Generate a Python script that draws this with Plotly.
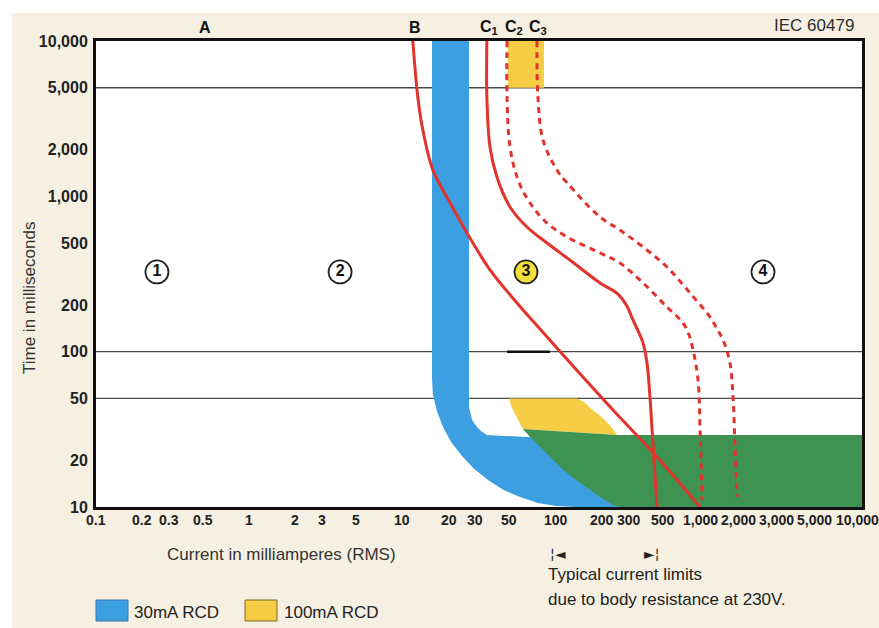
import math
import plotly.graph_objects as go

# IEC 60479 time/current zones. Current in mA, time in ms.

# curve B (solid)
B_I = [11.7, 12.6, 13.6, 15.8, 20.5, 26.4, 37.3, 56.0, 79.1, 112, 237, 459, 877]
B_T = [10000, 4360, 2670, 1480, 906, 581, 336, 206, 140, 95.2, 42.1, 21.0, 10]

# curve C1 (solid)
C1_I = [35.6, 35.6, 37.3, 41.4, 50.4, 65.0, 87.9, 124, 195, 255, 292, 320, 372, 395, 413, 433, 459]
C1_T = [10000, 4360, 2078, 1332, 854, 635, 501, 389, 277, 235, 197, 160, 114, 84.5, 51.1, 24.3, 10]

# curve C2 (dashed)
C2_I = [48.2, 48.2, 50.4, 56.9, 68.1, 87.9, 119, 195, 263, 372, 533, 679, 743, 789, 851, 877, 904]
C2_T = [10000, 4360, 2078, 1274, 906, 673, 547, 432, 372, 277, 194, 153, 128, 103, 65.7, 31.3, 11.1]

# curve C3 (dashed)
C3_I = [75.6, 76.7, 82.8, 102, 119, 195, 263, 372, 533, 753, 1019, 1114, 1239, 1374, 1439, 1483, 1528]
C3_T = [10000, 4360, 2305, 1478, 1219, 736, 607, 472, 351, 239, 167, 144, 119, 84.5, 51.1, 24.3, 11.6]

# 30mA RCD trip band (outline: outer edge down, hidden part, inner edge up)
RCD30_I = [15.6, 15.6, 15.8, 16.8, 18.4, 20.8, 24.5, 29.3, 36.2, 45.4, 58.6, 76.7, 101, 134,
           356, 356, 65.0, 35.6, 32.6, 30.7, 28.5, 27.2, 27.2]
RCD30_T = [10000, 68.7, 53.4, 41.5, 32.7, 26.2, 21.3, 17.6, 14.9, 12.9, 11.6, 10.6, 10.15, 10,
           10, 28.2, 28.2, 29.1, 30.8, 32.7, 36.3, 44.0, 10000]

# 100mA RCD: long-time window and short-time window
RCD100_TOP_I = [48.9, 84.0, 84.0, 48.9]
RCD100_TOP_T = [10000, 10000, 5000, 5000]
RCD100_LOW_I = [49.6, 138, 155, 168, 190, 210, 232, 252, 61.2, 56.0, 51.9]
RCD100_LOW_T = [50, 50, 47.0, 43.4, 39.6, 36.3, 32.6, 29.1, 31.8, 38.0, 43.4]

# green zone (fast disconnection)
GREEN_I = [61.2, 252, 10000, 10000, 263, 237, 195, 160, 130, 107, 91.9, 79.1, 69.1]
GREEN_T = [31.8, 29.1, 29.1, 10, 10, 10.3, 11.6, 13.3, 15.4, 18.1, 21.0, 24.3, 27.8]

GRID_T = [5000, 100, 50]
MARK_100_I = [48.2, 91.9]

ZONE_I = [0.25, 3.92, 64.1, 2259]
ZONE_T = [326, 326, 326, 326]
ZONE_LABELS = ['1', '2', '3', '4']

CURVE_LABELS = ['A', 'B', 'C<sub>1</sub>', 'C<sub>2</sub>', 'C<sub>3</sub>']
CURVE_LABEL_I = [0.514, 12.1, 37.0, 53.5, 76.2]

BODY_LIMITS_I = [95, 459]

X_TICKS = [0.1, 0.2, 0.3, 0.5, 1, 2, 3, 5, 10, 20, 30, 50, 100, 200, 300, 500,
           1000, 2000, 3000, 5000, 10000]
X_TICK_TEXT = ['0.1', '0.2', '0.3', '0.5', '1', '2', '3', '5', '10', '20', '30', '50',
               '100', '200', '300', '500', '1,000', '2,000', '3,000', '5,000', '10,000']
# crowded labels at the top decade get pushed apart a little (px)
X_TICK_NUDGE = {1000: -8, 2000: -16, 3000: -5, 5000: -1, 10000: -5}

Y_TICKS = [10, 20, 50, 100, 200, 500, 1000, 2000, 5000, 10000]
Y_TICK_TEXT = ['10', '20', '50', '100', '200', '500', '1,000', '2,000', '5,000', '10,000']

X_RANGE = (0.1, 10000)
Y_RANGE = (10, 10000)

BEIGE = '#f5f0e1'
RED = '#e2342c'
BLUE = '#3c9fe2'
YELLOW = '#f6cd45'
GREEN = '#3f9352'
INK = '#222222'
FONT = 'Liberation Sans, Arial, sans-serif'

W, H = 879, 628
L, R, T, B = 96, 862, 41, 507   # plot area in px


def pxx(x):
    return (x - L) / (R - L)


def pxy(y):
    return (B - y) / (B - T)


fig = go.Figure()


def area(xs, ys, color):
    fig.add_trace(go.Scatter(
        x=xs, y=ys, mode='lines', fill='toself', fillcolor=color,
        line=dict(width=0, color=color), hoverinfo='skip', showlegend=False,
    ))


def curve(xs, ys, dash='solid'):
    fig.add_trace(go.Scatter(
        x=xs, y=ys, mode='lines',
        line=dict(color=RED, width=3, dash=dash, shape='spline', smoothing=1.0),
        hoverinfo='skip', showlegend=False,
    ))


# reference lines
for t in GRID_T:
    fig.add_trace(go.Scatter(
        x=list(X_RANGE), y=[t, t], mode='lines',
        line=dict(color='#4a4a4a', width=1.3), hoverinfo='skip', showlegend=False,
    ))
fig.add_trace(go.Scatter(
    x=MARK_100_I, y=[100, 100], mode='lines',
    line=dict(color='#111111', width=2.5), hoverinfo='skip', showlegend=False,
))

area(RCD30_I, RCD30_T, BLUE)
area(RCD100_TOP_I, RCD100_TOP_T, YELLOW)
area(RCD100_LOW_I, RCD100_LOW_T, YELLOW)
area(GREEN_I, GREEN_T, GREEN)

curve(B_I, B_T)
curve(C1_I, C1_T)
curve(C2_I, C2_T, dash='6px,5px')
curve(C3_I, C3_T, dash='6px,5px')

# circled zone numbers
fig.add_trace(go.Scatter(
    x=ZONE_I, y=ZONE_T, mode='markers+text',
    text=[f'<b>{z}</b>' for z in ZONE_LABELS], textposition='middle center',
    textfont=dict(size=16, color='#111111', family=FONT),
    marker=dict(size=23, color=['white', 'white', '#f2df3a', 'white'],
                line=dict(color='#222222', width=1.8)),
    hoverinfo='skip', showlegend=False,
))

annotations = []

# x tick labels
for v, txt in zip(X_TICKS, X_TICK_TEXT):
    annotations.append(dict(
        x=math.log10(v), y=pxy(520), xref='x', yref='paper',
        text=f'<b>{txt}</b>', showarrow=False, xshift=X_TICK_NUDGE.get(v, 0),
        xanchor='center', yanchor='middle',
        font=dict(size=14, color=INK, family=FONT),
    ))

# curve names above the frame
for v, txt in zip(CURVE_LABEL_I, CURVE_LABELS):
    annotations.append(dict(
        x=math.log10(v), y=pxy(27), xref='x', yref='paper',
        text=f'<b>{txt}</b>', showarrow=False, xanchor='center', yanchor='middle',
        font=dict(size=16, color='#111111', family=FONT),
    ))

annotations += [
    dict(x=pxx(856), y=pxy(26), xref='paper', yref='paper', text='IEC 60479',
         showarrow=False, xanchor='right', yanchor='middle',
         font=dict(size=17, color='#2d2d2d', family=FONT)),
    dict(x=pxx(281), y=pxy(554), xref='paper', yref='paper',
         text='Current in milliamperes (RMS)', showarrow=False,
         xanchor='center', yanchor='middle',
         font=dict(size=17, color='#333333', family=FONT)),
    dict(x=pxx(30), y=pxy(298), xref='paper', yref='paper',
         text='Time in milliseconds', textangle=-90, showarrow=False,
         xanchor='center', yanchor='middle',
         font=dict(size=17, color='#333333', family=FONT)),
    dict(x=pxx(546), y=pxy(574), xref='paper', yref='paper',
         text='Typical current limits', showarrow=False,
         xanchor='left', yanchor='middle',
         font=dict(size=17, color=INK, family=FONT)),
    dict(x=pxx(546), y=pxy(599), xref='paper', yref='paper',
         text='due to body resistance at 230V.', showarrow=False,
         xanchor='left', yanchor='middle',
         font=dict(size=17, color=INK, family=FONT)),
    dict(x=pxx(132), y=pxy(612), xref='paper', yref='paper', text='30mA RCD',
         showarrow=False, xanchor='left', yanchor='middle',
         font=dict(size=17, color=INK, family=FONT)),
    dict(x=pxx(282), y=pxy(612), xref='paper', yref='paper', text='100mA RCD',
         showarrow=False, xanchor='left', yanchor='middle',
         font=dict(size=17, color=INK, family=FONT)),
]

# body-resistance current range markers
annotations += [
    dict(x=math.log10(BODY_LIMITS_I[0]), y=pxy(554), xref='x', yref='paper',
         text='¦◄', showarrow=False, xanchor='left', yanchor='middle', xshift=-4,
         font=dict(size=14, color=INK, family='DejaVu Sans')),
    dict(x=math.log10(BODY_LIMITS_I[1]), y=pxy(554), xref='x', yref='paper',
         text='►¦', showarrow=False, xanchor='right', yanchor='middle', xshift=4,
         font=dict(size=14, color=INK, family='DejaVu Sans')),
]

shapes = [
    # white margin of the scanned page
    dict(type='rect', xref='paper', yref='paper', x0=pxx(0), x1=pxx(12),
         y0=pxy(H), y1=pxy(0), fillcolor='white', line=dict(width=0), layer='below'),
    dict(type='rect', xref='paper', yref='paper', x0=pxx(0), x1=pxx(W),
         y0=pxy(13), y1=pxy(0), fillcolor='white', line=dict(width=0), layer='below'),
    # legend swatches
    dict(type='rect', xref='paper', yref='paper', x0=pxx(96), x1=pxx(128),
         y0=pxy(621), y1=pxy(600), fillcolor=BLUE, line=dict(width=1, color='#3579ad')),
    dict(type='rect', xref='paper', yref='paper', x0=pxx(245), x1=pxx(277),
         y0=pxy(621), y1=pxy(600), fillcolor=YELLOW, line=dict(width=1, color='#7d6a25')),
]

fig.update_layout(
    width=W, height=H,
    paper_bgcolor=BEIGE, plot_bgcolor='white',
    margin=dict(l=L, r=W - R, t=T, b=H - B, pad=0),
    font=dict(family=FONT, color=INK),
    showlegend=False,
    xaxis=dict(
        type='log', range=[math.log10(X_RANGE[0]), math.log10(X_RANGE[1])],
        showgrid=False, zeroline=False, ticks='', showticklabels=False,
        showline=True, mirror=True, linecolor='#111111', linewidth=3,
        fixedrange=True, automargin=False,
    ),
    yaxis=dict(
        type='log', range=[math.log10(Y_RANGE[0]), math.log10(Y_RANGE[1])],
        tickvals=Y_TICKS, ticktext=[f'<b>{t}</b>' for t in Y_TICK_TEXT],
        tickfont=dict(size=16, color=INK, family=FONT), ticklabelstandoff=2,
        showgrid=False, zeroline=False, ticks='',
        showline=True, mirror=True, linecolor='#111111', linewidth=3,
        fixedrange=True, automargin=False,
    ),
    annotations=annotations,
    shapes=shapes,
)

# the page body has a default 8px margin; drop it so the figure fills the window
fig.write_html("out.html", config={'displayModeBar': False},
               post_script="document.body.style.margin = '0';")
